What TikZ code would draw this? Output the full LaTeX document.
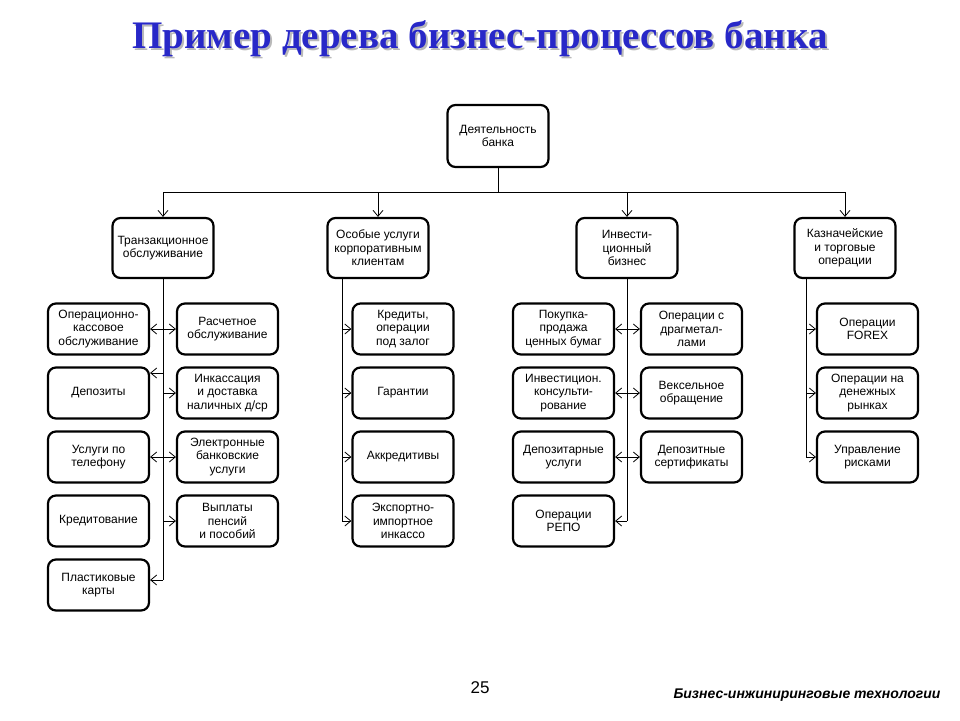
\documentclass[tikz,border=0pt]{standalone}
\usepackage{fontspec}
\setmainfont{Liberation Sans}
\newfontfamily\titlefont{Liberation Serif}
\usetikzlibrary{arrows.meta}
\definecolor{ttlblue}{RGB}{40,40,200}
\begin{document}
\begin{tikzpicture}[x=1pt,y=-1pt,
  bx/.style={draw,line width=2.2pt,rounded corners=8pt,minimum width=101pt,minimum height=51pt,align=center,font=\fontsize{12}{13.5}\selectfont,inner sep=1pt},
  ln/.style={line width=0.8pt},
  ar/.style={ln,-{Straight Barb[length=6pt,width=10pt]}}]
\useasboundingbox (0,0) rectangle (960,720);
\node (title)[font=\titlefont\bfseries\fontsize{39}{42}\selectfont] at (480,40) {\rlap{\kern2pt\raisebox{-2pt}{\textcolor{gray!55}{Пример дерева бизнес-процессов банка}}}\textcolor{ttlblue}{Пример дерева бизнес-процессов банка}};
\node (root)[bx,minimum height=62pt] at (498,136) {Деятельность\\банка};
\node (t)[bx,minimum height=60pt] at (163,248) {Транзакционное\\обслуживание};
\node (o)[bx,minimum height=60pt] at (378,248) {Особые услуги\\корпоративным\\клиентам};
\node (i)[bx,minimum height=60pt] at (627,248) {Инвести-\\ционный\\бизнес};
\node (k)[bx,minimum height=60pt] at (845,248) {Казначейские\\и торговые\\операции};
\coordinate (bl) at (163,192); \coordinate (br) at (845,192);
\draw[ln] (root.south) -- (root.south |- bl);
\draw[ln] (bl) -- (br);
\foreach \n in {t,o,i,k} \draw[ar] (\n.north |- bl) -- (\n.north);
% Trans column
\node (t1)[bx] at (98.5,329) {Операционно-\\кассовое\\обслуживание};
\node (t2)[bx] at (98.5,393) {Депозиты};
\node (t3)[bx] at (98.5,457) {Услуги по\\телефону};
\node (t4)[bx] at (98.5,521) {Кредитование};
\node (t5)[bx] at (98.5,585) {Пластиковые\\карты};
\node (r1)[bx] at (227.5,329) {Расчетное\\обслуживание};
\node (r2)[bx] at (227.5,393) {Инкассация\\и доставка\\наличных д/ср};
\node (r3)[bx] at (227.5,457) {Электронные\\банковские\\услуги};
\node (r4)[bx] at (227.5,521) {Выплаты\\пенсий\\и пособий};
\coordinate (tb) at (163,580);
\draw[ln] (t.south) -- (tb);
\draw[ar] (163,329) -- (t1.east|-0,329); \draw[ar] (163,329) -- (r1.west|-0,329);
\draw[ar] (163,373) -- (t2.east|-0,373); \draw[ar] (163,393) -- (r2.west|-0,393);
\draw[ar] (163,457) -- (t3.east|-0,457); \draw[ar] (163,457) -- (r3.west|-0,457);
\draw[ar] (163,521) -- (r4.west|-0,521);
\draw[ar] (tb) -- (t5.east|-tb);
% Osobye
\node (o1)[bx] at (403,329) {Кредиты,\\операции\\под залог};
\node (o2)[bx] at (403,393) {Гарантии};
\node (o3)[bx] at (403,457) {Аккредитивы};
\node (o4)[bx] at (403,521) {Экспортно-\\импортное\\инкассо};
\draw[ln] (342,278) -- (342,521);
\foreach \n in {o1,o2,o3,o4} \draw[ar] (342,0|-\n.west) -- (\n.west);
% Invest
\node (i1)[bx] at (563.5,329) {Покупка-\\продажа\\ценных бумаг};
\node (i2)[bx] at (563.5,393) {Инвестицион.\\консульти-\\рование};
\node (i3)[bx] at (563.5,457) {Депозитарные\\услуги};
\node (i4)[bx] at (563.5,521) {Операции\\РЕПО};
\node (j1)[bx] at (691.5,329) {Операции с\\драгметал-\\лами};
\node (j2)[bx] at (691.5,393) {Вексельное\\обращение};
\node (j3)[bx] at (691.5,457) {Депозитные\\сертификаты};
\draw[ln] (i.south) -- (627,521);
\foreach \n in {i1,i2,i3,i4} \draw[ar] (627,0|-\n.east) -- (\n.east);
\foreach \n in {j1,j2,j3} \draw[ar] (627,0|-\n.west) -- (\n.west);
% Kazn
\node (k1)[bx] at (867.5,329) {Операции\\FOREX};
\node (k2)[bx] at (867.5,393) {Операции на\\денежных\\рынках};
\node (k3)[bx] at (867.5,457) {Управление\\рисками};
\draw[ln] (806,278) -- (806,457);
\foreach \n in {k1,k2,k3} \draw[ar] (806,0|-\n.west) -- (\n.west);
\node (pg)[font=\fontsize{17}{20}\selectfont] at (480,688) {25};
\node (ft)[font=\bfseries\itshape\fontsize{14}{16}\selectfont,anchor=east] at (944,695) {Бизнес-инжиниринговые технологии};
\end{tikzpicture}
\end{document}
